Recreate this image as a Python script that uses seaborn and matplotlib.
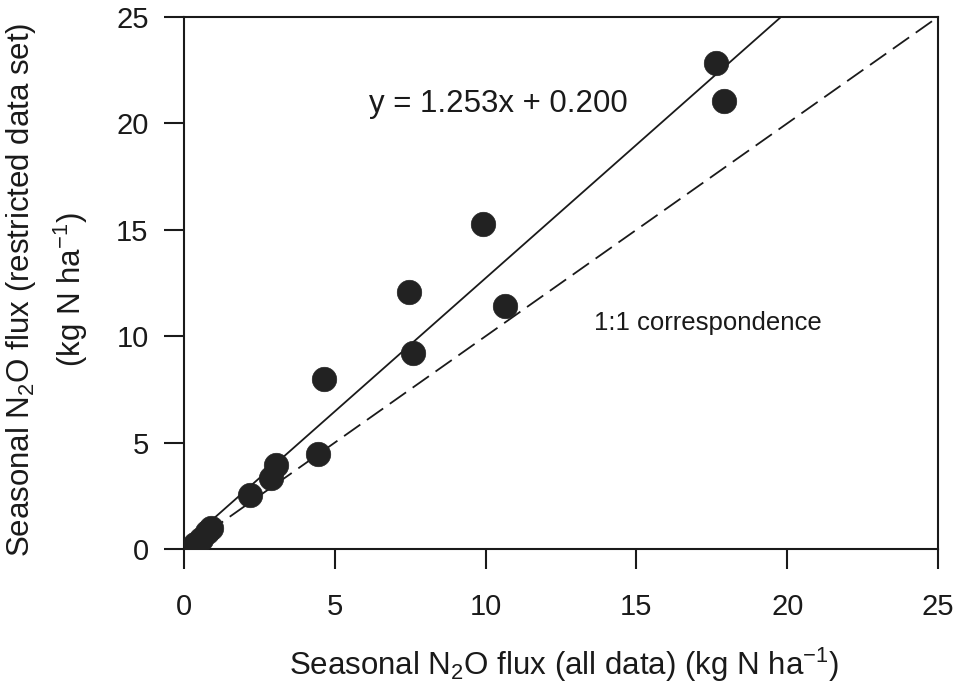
import numpy as np
import pandas as pd
import matplotlib
matplotlib.use("Agg")
import matplotlib.pyplot as plt
import seaborn as sns

# Data
all_data = [0.35, 0.55, 0.75, 0.9, 2.2, 2.9, 3.05, 4.45, 4.65, 7.45, 7.6, 9.9, 10.65, 17.65, 17.9]
restricted = [0.25, 0.45, 0.8, 1.0, 2.55, 3.35, 3.95, 4.45, 8.0, 12.1, 9.2, 15.25, 11.4, 22.85, 21.05]
slope = 1.253
intercept = 0.200
x_ticks = [0, 5, 10, 15, 20, 25]
y_ticks = [0, 5, 10, 15, 20, 25]
equation_label = "y = 1.253x + 0.200"
one_to_one_label = "1:1 correspondence"
x_label = "Seasonal N$_2$O flux (all data) (kg N ha$^{\\mathregular{-1}}$)"
y_label = "Seasonal N$_2$O flux (restricted data set)\n(kg N ha$^{\\mathregular{-1}}$)"

sns.set_style("ticks")
plt.rcParams['font.family'] = ['Liberation Sans', 'DejaVu Sans']
plt.rcParams['mathtext.fontset'] = 'custom'
plt.rcParams['mathtext.rm'] = 'Liberation Sans'
plt.rcParams['mathtext.it'] = 'Liberation Sans:italic'
plt.rcParams['mathtext.bf'] = 'Liberation Sans:bold'

ink = "#1a1a1a"
W, H = 959, 688
fig = plt.figure(figsize=(W / 100, H / 100), dpi=100)
ax = fig.add_axes([184 / W, 1 - 549 / H, (938 - 184) / W, (549 - 17) / H])

df = pd.DataFrame({"all": all_data, "restricted": restricted})

# regression line, from x=0 until it reaches y=25
x_end = (25 - intercept) / slope
reg = pd.DataFrame({"x": [0, x_end], "y": [intercept, intercept + slope * x_end]})
sns.lineplot(data=reg, x="x", y="y", ax=ax, color=ink, linewidth=1.3)

# 1:1 line
one = pd.DataFrame({"x": [0, 25], "y": [0, 25]})
sns.lineplot(data=one, x="x", y="y", ax=ax, color=ink, linewidth=1.3,
             linestyle=(0, (11, 4.5)))

sns.scatterplot(data=df, x="all", y="restricted", ax=ax, s=310,
                color="#222222", edgecolor="#222222", linewidth=0.5, zorder=3)

ax.set_xlim(0, 25)
ax.set_ylim(0, 25)
ax.set_xticks(x_ticks)
ax.set_yticks(y_ticks)
ax.tick_params(axis="both", labelsize=21, length=14.5, width=1.5, color=ink,
               labelcolor=ink)
ax.tick_params(axis="y", pad=11)
ax.tick_params(axis="x", pad=17)
for sp in ax.spines.values():
    sp.set_linewidth(1.5)
    sp.set_color(ink)

ax.set_xlabel("")
ax.set_ylabel("")
fig.text(564 / W, 1 - 665 / H, x_label, fontsize=22.5, color=ink,
         ha="center", va="center")
fig.text(47 / W, 1 - 290 / H, y_label, fontsize=22.5, color=ink,
         ha="center", va="center", rotation=90, linespacing=1.45,
         multialignment="center")

ax.text(6.15, 20.9, equation_label, fontsize=22.5, color=ink, va="center", ha="left")
ax.text(13.6, 10.62, one_to_one_label, fontsize=18.5, color=ink, va="center", ha="left")

fig.savefig("out.png", dpi=100)
